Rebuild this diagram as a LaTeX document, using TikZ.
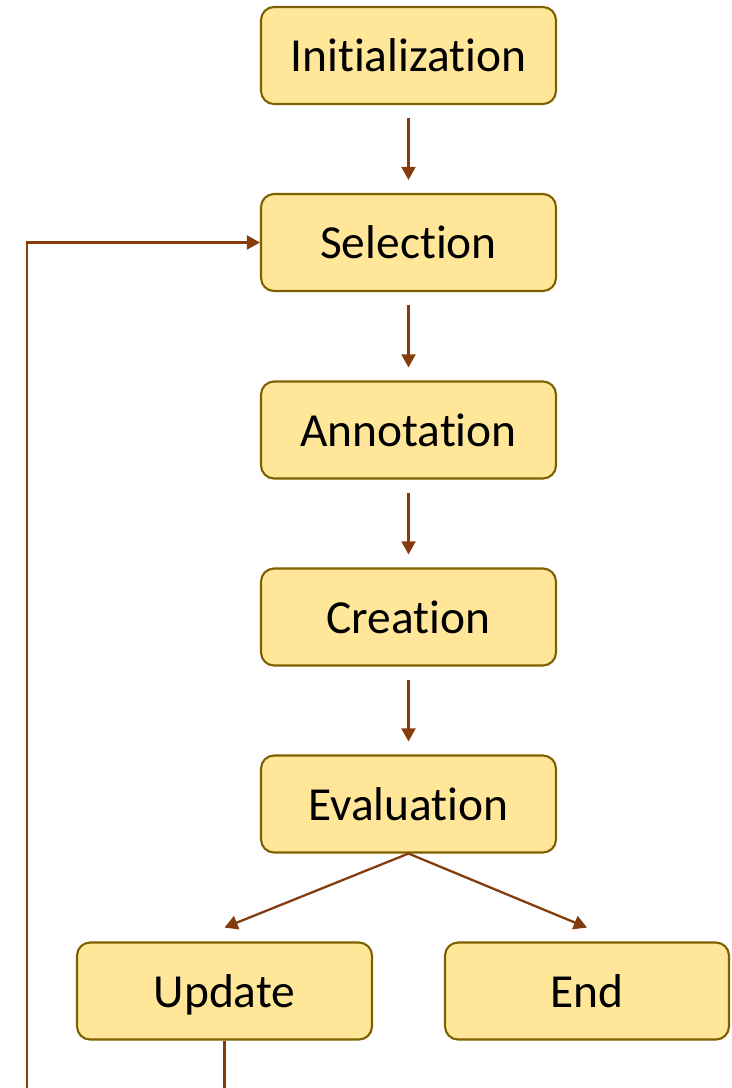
\documentclass[tikz,border=0pt]{standalone}
\usepackage{fontspec}
\setmainfont{Carlito}[RawFeature={-liga;-calt;-dlig}]
\usepackage{tikz}
\usetikzlibrary{arrows.meta}
\definecolor{boxfill}{HTML}{FFE699}
\definecolor{boxline}{HTML}{7F6000}
\definecolor{arrowbrown}{HTML}{843C0C}

\begin{document}
\begin{tikzpicture}[x=0.02cm,y=-0.02cm,>={Triangle[length=7.5pt,width=8pt]},
  box/.style={draw=boxline,fill=boxfill,line width=1.2pt,rounded corners=0.26cm,
    minimum width=5.9cm,minimum height=1.94cm,text height=22pt,text depth=3.6pt,
    font=\fontsize{27}{32}\selectfont},
  link/.style={->,draw=arrowbrown,line width=1.3pt}]
\useasboundingbox (0,0) rectangle (731,1088);
\clip (0,0) rectangle (731,1088);

\node[box] (init) at (408.5,55.5) {Initialization};
\node[box] (sel) at (408.5,242.5) {Selection};
\node[box] (ann) at (408.5,430) {Annotation};
\node[box] (cre) at (408.5,617) {Creation};
\node[box] (eval) at (408.5,804) {Evaluation};
\node[box] (upd) at (224.5,991) {Update};
\node[box,minimum width=5.68cm] (end) at (587,991) {End};
\coordinate (back) at (27,1130);

\draw[link,shorten <=7.4pt,shorten >=7.4pt] (init) -- (sel);
\draw[link,shorten <=7.4pt,shorten >=7.4pt] (sel) -- (ann);
\draw[link,shorten <=7.4pt,shorten >=7.4pt] (ann) -- (cre);
\draw[link,shorten <=7.4pt,shorten >=7.4pt] (cre) -- (eval);
\draw[link] (eval.south) -- ([yshift=7.9pt]upd.north);
\draw[link] (eval.south) -- ([yshift=7.9pt]end.north);
\draw[link] (upd.south) |- (back) |- (sel.west);
\end{tikzpicture}
\end{document}
